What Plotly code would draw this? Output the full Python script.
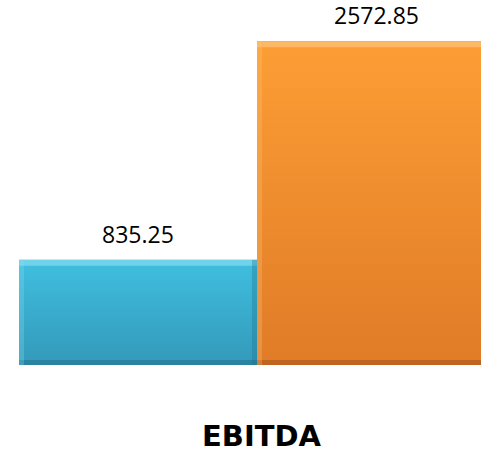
import plotly.graph_objects as go

categories = ["EBITDA"]
series_names = ["Series 1", "Series 2"]
values = [835.25, 2572.85]
labels = ["835.25", "2572.85"]

# top light / body top / body bottom / bottom edge
palettes = [
    ("#86DBF0", "#40BFDF", "#3399BA", "#23748F"),
    ("#FDC27A", "#FC9E35", "#E07B27", "#A9561A"),
]

fig = go.Figure()

for i, (name, val) in enumerate(zip(series_names, values)):
    light, top, bottom, edge = palettes[i]
    fig.add_trace(go.Bar(
        x=[i],
        y=[val],
        name=name,
        width=1,
        marker=dict(color=top, line=dict(width=0)),
        hoverinfo="skip",
        showlegend=False,
    ))
    # vertical shading over the bar
    fig.add_trace(go.Scatter(
        x=[i - 0.5, i + 0.5, i + 0.5, i - 0.5, i - 0.5],
        y=[0, 0, val, val, 0],
        mode="none",
        fill="toself",
        fillgradient=dict(type="vertical", colorscale=[[0, bottom], [1, top]]),
        hoverinfo="skip",
        showlegend=False,
    ))
    # bevel strips
    fig.add_shape(type="rect", xref="x", yref="y", ysizemode="pixel",
                  x0=i - 0.5, x1=i + 0.5, yanchor=val, y0=-6, y1=0,
                  fillcolor=light, opacity=0.7, line_width=0, layer="above")
    fig.add_shape(type="rect", xref="x", yref="y", ysizemode="pixel",
                  x0=i - 0.5, x1=i + 0.5, yanchor=0, y0=0, y1=5,
                  fillcolor=edge, opacity=0.6, line_width=0, layer="above")
    fig.add_shape(type="rect", xref="x", yref="y", xsizemode="pixel",
                  xanchor=i - 0.5, x0=0, x1=5, y0=0, y1=val,
                  fillcolor=light, opacity=0.3, line_width=0, layer="above")
    fig.add_shape(type="rect", xref="x", yref="y", xsizemode="pixel",
                  xanchor=i + 0.5, x0=-5, x1=0, y0=0, y1=val,
                  fillcolor=edge, opacity=0.35, line_width=0, layer="above")
    fig.add_annotation(
        x=i, y=val, text=labels[i],
        showarrow=False, yanchor="bottom", yshift=8,
        font=dict(family="Open Sans", size=23, color="#000000"),
    )

fig.add_annotation(
    x=0.5, y=-0.195, xref="x", yref="paper",
    text="<b>" + categories[0] + "</b>",
    showarrow=False, yanchor="middle", xshift=5,
    font=dict(family="DejaVu Sans", size=29, color="#000000"),
)

fig.update_layout(
    width=481,
    height=452,
    margin=dict(l=0, r=0, t=0, b=87),
    plot_bgcolor="white",
    paper_bgcolor="white",
    bargap=0,
    xaxis=dict(range=[-0.58, 1.441], visible=False),
    yaxis=dict(range=[0, 2900], visible=False),
)

fig.write_html(
    "out.html",
    config={"displayModeBar": False},
    post_script="document.body.style.margin='0';document.body.style.overflow='hidden';",
)
